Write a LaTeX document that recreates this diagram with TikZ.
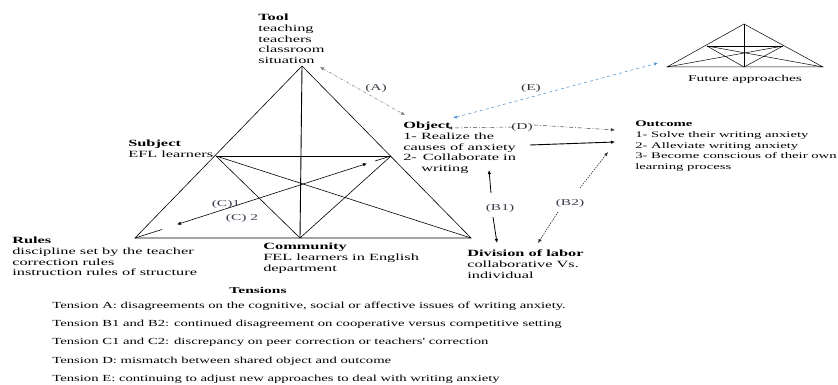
\documentclass[tikz,border=0pt]{standalone}
\usepackage{fontspec}
\setmainfont{Liberation Serif}
\newfontfamily\labelfont[FakeStretch=1.72]{Liberation Serif}
\newfontfamily\tensionfont[FakeStretch=1.58]{Liberation Serif}
\usetikzlibrary{arrows.meta}

\definecolor{tagcol}{RGB}{60,60,80}
\definecolor{lightblue}{RGB}{91,155,213}

\tikzset{
  lbl/.style={anchor=north west,inner sep=0pt,align=left,font=\labelfont\fontsize{9.5}{10.7}\selectfont},
  tag/.style={inner sep=1pt,font=\labelfont\fontsize{9}{10}\selectfont,text=tagcol},
  tens/.style={anchor=base west,inner sep=0pt,font=\tensionfont\fontsize{9.3}{10}\selectfont},
  tip/.style={{Latex[length=4pt,width=3.5pt]}-{Latex[length=4pt,width=3.5pt]}},
  onetip/.style={-{Latex[length=4pt,width=3.5pt]}}
}

\begin{document}
\begin{tikzpicture}[x=1pt,y=-1pt,line width=0.6pt]
\useasboundingbox (0,0) rectangle (838,385);

% main triangle
\coordinate (top) at (302,66);
\coordinate (bl) at (135,238);
\coordinate (bm) at (300,238);
\coordinate (br) at (471,238);
\coordinate (ml) at (216,156);
\coordinate (mr) at (391,156);
\draw (top) -- (bl) -- (br) -- cycle;
\draw (ml) -- (mr);
\draw [line width=0.9pt] (top) -- (bm);
\draw (ml) -- (bm) -- (mr);
\draw (ml) -- (br);

% tension C on the line bl--mr
\coordinate (c1) at (162,229.5);
\coordinate (c2) at (177,224.5);
\coordinate (c3) at (367,163.5);
\coordinate (c4) at (375,161);
\draw (bl) -- (c1);
\draw [tip] (c2) -- (c3);
\draw (c4) -- (mr);
\node [tag] (tc1) at (226,204) {(C)1};
\node [tag] (tc2) at (242,218) {(C) 2};

% small triangle
\coordinate (ftop) at (744,24);
\coordinate (fbl) at (667,67);
\coordinate (fbm) at (744,67);
\coordinate (fbr) at (823,67);
\coordinate (fml) at (707,46);
\coordinate (fmr) at (783,46);
\draw [line width=0.5pt] (ftop) -- (fbl) -- (fbr) -- cycle;
\draw [line width=0.5pt] (fml) -- (fmr);
\draw [line width=0.8pt] (ftop) -- (fbm);
\draw [line width=0.5pt] (fml) -- (fbm) -- (fmr);
\draw [line width=0.5pt] (fml) -- (fbr);
\draw [line width=0.5pt] (fbl) -- (fmr);
\node [font=\labelfont\fontsize{9}{10}\selectfont,anchor=base] (future) at (745,82) {Future approaches};

% labels
\node [lbl] (tool) at (258,14) {\textbf{Tool}\\teaching\\teachers\\classroom\\situation};
\node [lbl] (subj) at (128,140) {\textbf{Subject}\\EFL learners};
\node [lbl] (obj) at (403,122) {\textbf{Object}\\1- Realize the\\causes of anxiety\\2-\hspace{6pt}Collaborate in\\\hspace*{18pt}writing};
\node [lbl,font=\labelfont\fontsize{8.55}{10.6}\selectfont] (out) at (635,121) {\textbf{Outcome}\\1- Solve their writing anxiety\\2- Alleviate writing anxiety\\3- Become conscious of their own\\learning process};
\node [lbl] (rules) at (12,237) {\textbf{Rules}\\discipline set by the teacher\\correction rules\\instruction rules of structure};
\node [lbl] (comm) at (263,243) {\textbf{Community}\\FEL learners in English\\department};
\node [lbl] (div) at (467,250) {\textbf{Division of labor}\\collaborative Vs.\\individual};

% tension A
\coordinate (a1) at (320,67);
\coordinate (a2) at (405,115);
\draw [tip,gray,dash pattern=on 3pt off 1.5pt on 0.6pt off 1.5pt,line width=0.5pt] (a1) -- (a2);
\node [tag] (ta) at (376,88) {(A)};

% tension E
\coordinate (e1) at (453,118);
\coordinate (e2) at (658,63);
\draw [tip,lightblue,dashed,line width=0.6pt] (e1) -- (e2);
\node [tag,text=black!80] (te) at (531,88) {(E)};

% tension D
\coordinate (d1) at (448,128);
\coordinate (d2) at (512,127);
\coordinate (d3) at (534,125);
\coordinate (d4) at (615,130);
\node [tag,text=black!80] (td) at (522,127) {(D)};
\draw [onetip,black!75,dash pattern=on 4pt off 2pt on 0.8pt off 2pt,line width=0.5pt] (d2) -- (d1);
\draw [onetip,black!75,dash pattern=on 4pt off 2pt on 0.8pt off 2pt,line width=0.5pt] (d3) -- (d4);

% object to outcome
\coordinate (o1) at (530,145);
\coordinate (o2) at (615,142);
\draw [onetip,line width=0.9pt] (o1) -- (o2);

% tension B1
\coordinate (b1) at (491,193);
\coordinate (b2) at (489,170);
\coordinate (b3) at (493,217);
\coordinate (b4) at (497,243);
\draw [onetip,line width=0.8pt] (b1) -- (b2);
\draw [onetip,line width=0.8pt] (b3) -- (b4);
\node [tag] (tb1) at (500,208) {(B1)};

% tension B2
\coordinate (b5) at (580,188);
\coordinate (b6) at (608,152);
\coordinate (b7) at (558,212);
\coordinate (b8) at (538,243);
\draw [onetip,black!80,dash pattern=on 1.5pt off 1pt,line width=0.6pt] (b5) -- (b6);
\draw [onetip,black!80,dash pattern=on 1.5pt off 1pt,line width=0.6pt] (b7) -- (b8);
\node [tag] (tb2) at (570,203) {(B2)};

% tensions list
\node [font=\labelfont\bfseries\fontsize{9}{10}\selectfont,anchor=base] (tens) at (258,293) {Tensions};
\node [tens] (tA) at (52,308) {Tension A: disagreements on the cognitive, social or affective issues of writing anxiety.};
\node [tens] (tB) at (52,326) {Tension B1 and B2: continued disagreement on cooperative versus competitive setting};
\node [tens] (tC) at (52,344) {Tension C1 and C2: discrepancy on peer correction or teachers' correction};
\node [tens] (tD) at (52,363) {Tension D: mismatch between shared object and outcome};
\node [tens] (tE) at (52,381) {Tension E: continuing to adjust new approaches to deal with writing anxiety};
\end{tikzpicture}
\end{document}
